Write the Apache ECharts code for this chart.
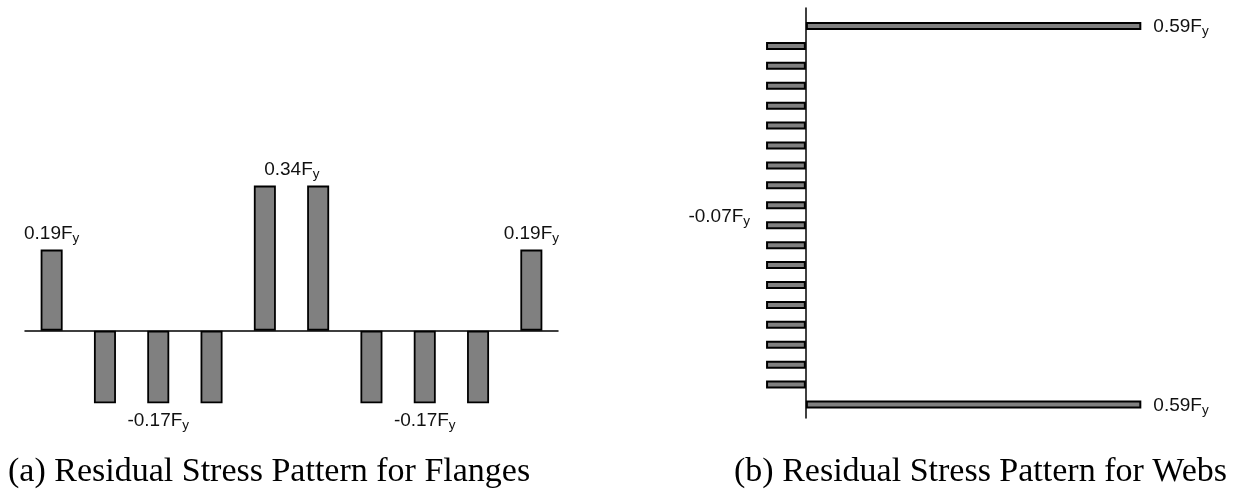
<!DOCTYPE html>
<html><head><meta charset="utf-8">
<script src="https://cdn.jsdelivr.net/npm/echarts@6/dist/echarts.min.js"></script>
<style>html,body{margin:0;padding:0;background:#fff}#c{width:1237px;height:491px}</style>
</head><body><div id="c"></div>
<script>
// ---- data ----
const flangeCats = ['1','2','3','4','5','6','7','8','9','10'];
const flangeValues = [0.19, -0.17, -0.17, -0.17, 0.34, 0.34, -0.17, -0.17, -0.17, 0.19];
const flangeLabeled = [0, 2, 4, 7, 9];
const webCats = ['1','2','3','4','5','6','7','8','9','10','11','12','13','14','15','16','17','18','19','20'];
const webValues = [0.59, -0.07, -0.07, -0.07, -0.07, -0.07, -0.07, -0.07, -0.07, -0.07,
                   -0.07, -0.07, -0.07, -0.07, -0.07, -0.07, -0.07, -0.07, -0.07, 0.59];
const webLabeled = [0, 9, 19];
const captions = ['(a) Residual Stress Pattern for Flanges', '(b) Residual Stress Pattern for Webs'];

// ---- layout ----
const webXMin = -0.1, webXMax = 0.6, webLeft = 749, webWidth = 398;
const webZeroX = webLeft + (0 - webXMin) / (webXMax - webXMin) * webWidth;

const rich = {
  a: {fontFamily: 'Liberation Sans', fontSize: 19, color: '#111', verticalAlign: 'bottom', padding: [0, 0, 2, 0]},
  b: {fontFamily: 'Liberation Sans', fontSize: 13.5, color: '#111', verticalAlign: 'bottom'}
};
const fmt = p => '{a|' + p.value.toFixed(2) + 'F}{b|y}';
const barStyle = {color: '#808080', borderColor: '#000', borderWidth: 1.8};
const captionStyle = {fontFamily: 'Liberation Serif', fontSize: 34, fontWeight: 'normal', color: '#000'};

const flangeData = flangeValues.map((v, i) => {
  const item = {value: v};
  if (flangeLabeled.includes(i)) {
    item.label = {show: true, position: v >= 0 ? 'top' : 'bottom', distance: v >= 0 ? 4 : 8,
      offset: (i === 4) ? [27, 0] : [0, 0]};
  }
  return item;
});
const webData = webValues.map((v, i) => {
  const item = {value: v};
  if (webLabeled.includes(i)) {
    item.label = {show: true, position: v >= 0 ? 'right' : 'left', distance: v >= 0 ? 12 : 16,
      offset: v >= 0 ? [0, 2] : [0, 12]};
  }
  return item;
});

const chart = echarts.init(document.getElementById('c'), null, {renderer: 'canvas'});
chart.setOption({
  animation: false,
  backgroundColor: '#fff',
  title: [
    {text: captions[0], left: 3, top: 450, textStyle: captionStyle},
    {text: captions[1], left: 729, top: 450, textStyle: captionStyle}
  ],
  grid: [
    {left: 25, width: 533, top: 160, height: 256},
    {left: webLeft, width: webWidth, top: 16, height: 398.5},
    {left: webZeroX, width: 10, top: 8, height: 410}
  ],
  xAxis: [
    {type: 'category', gridIndex: 0, data: flangeCats,
     axisLine: {show: true, onZero: true, lineStyle: {color: '#000', width: 1.5}},
     axisTick: {show: false}, axisLabel: {show: false}, splitLine: {show: false}},
    {type: 'value', gridIndex: 1, min: webXMin, max: webXMax, show: false},
    {type: 'value', gridIndex: 2, min: 0, max: 1, show: false}
  ],
  yAxis: [
    {type: 'value', gridIndex: 0, min: -0.2, max: 0.4, show: false},
    {type: 'category', gridIndex: 1, data: webCats, inverse: true,
     axisLine: {show: false}, axisTick: {show: false}, axisLabel: {show: false}},
    {type: 'value', gridIndex: 2, min: 0, max: 1, position: 'left',
     axisLine: {show: true, onZero: false, lineStyle: {color: '#000', width: 1.5}},
     axisTick: {show: false}, axisLabel: {show: false}, splitLine: {show: false}}
  ],
  series: [
    {type: 'bar', xAxisIndex: 0, yAxisIndex: 0, data: flangeData, barWidth: 22,
     itemStyle: barStyle, label: {show: false, formatter: fmt, rich: rich}},
    {type: 'bar', xAxisIndex: 1, yAxisIndex: 1, data: webData, barWidth: 8,
     itemStyle: {color: '#808080', borderColor: '#000', borderWidth: 2}, label: {show: false, formatter: fmt, rich: rich}}
  ]
});
</script>
</body></html>
